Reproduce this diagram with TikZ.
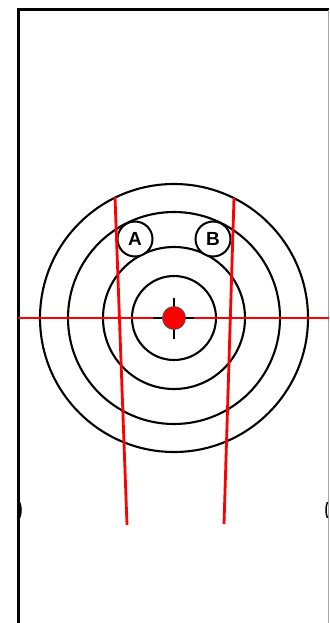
\documentclass[tikz,border=0pt]{standalone}
\usepackage{fontspec}
\setmainfont{Liberation Sans}
\begin{document}
\begin{tikzpicture}[x=1pt,y=-1pt,
  ring/.style={circle,draw=black,line width=2.1pt,minimum size=#1,inner sep=0pt},
  lettercirc/.style={circle,draw=black,fill=white,line width=2pt,minimum size=35pt,inner sep=0pt,font=\fontsize{19}{19}\selectfont\bfseries},
  redline/.style={draw=red,line width=2.8pt},
  frameline/.style={draw=black,line width=3pt}]
\useasboundingbox (0,0) rectangle (329,623);
% frame
\draw[frameline] (18.5,623) -- (18.5,10) -- (329,10);
\draw[draw=black!35,line width=1pt] (328,10) -- (328,623);
\draw[black,line width=1.5pt] (19.5,502) .. controls (21.5,506) and (21.5,514) .. (19.5,518);
\draw[black,line width=1.5pt] (327.5,502) .. controls (325.5,506) and (325.5,514) .. (327.5,518);
% rings
\node[ring=268pt] (r1) at (174,318) {};
\node[ring=212pt] (r2) at (174,318) {};
\node[ring=142pt] (r3) at (174,318) {};
\node[ring=84pt] (r4) at (174,318) {};
\node[lettercirc] (A) at (135,239) {A};
\node[lettercirc] (B) at (213,239) {B};
% red lines
\coordinate (hl) at (18,318);
\coordinate (hr) at (329,318);
\draw[redline] (hl) -- (hr);
\coordinate (lt) at (115,197);
\coordinate (lb) at (127,525);
\coordinate (rt) at (234,198);
\coordinate (rb) at (224,524);
\draw[redline] (lt) -- (lb);
\draw[redline] (rt) -- (rb);
% center target
\coordinate (ct) at (174,318);
\draw[black,line width=2.4pt] (174,298) -- (174,339);
\draw[black,line width=2.4pt] (153,318) -- (194,318);
\node[circle,fill=red,draw=black!70,line width=0.8pt,minimum size=23pt,inner sep=0pt] (dot) at (ct) {};
\end{tikzpicture}
\end{document}
